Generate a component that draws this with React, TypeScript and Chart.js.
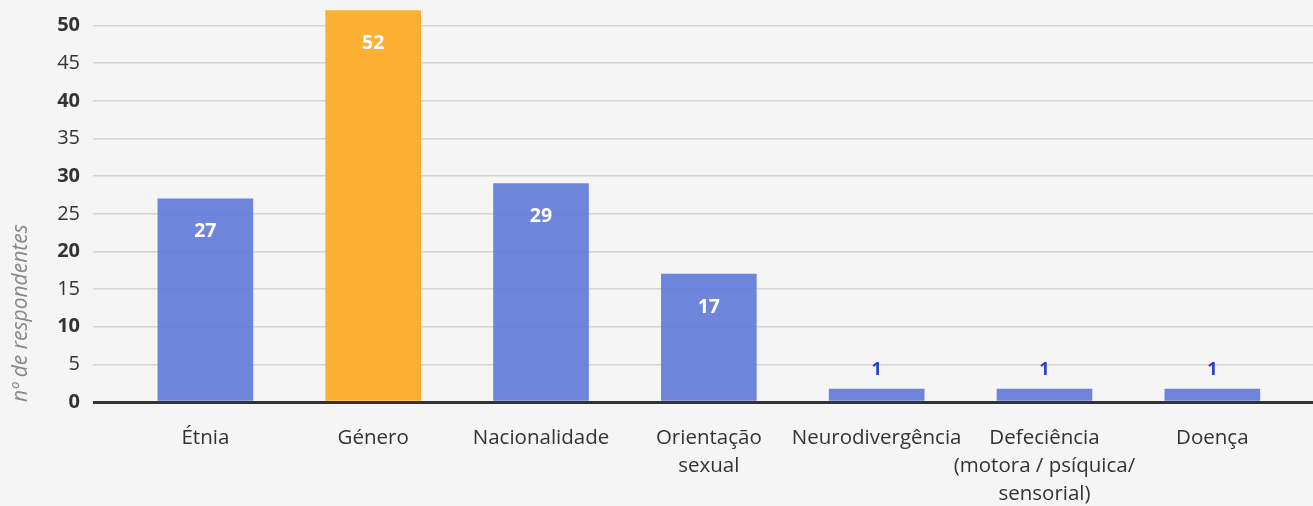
import React, { useEffect, useRef } from "react";
import { Chart, registerables } from "chart.js";

Chart.register(...registerables);

const categories: string[][] = [
  ["Étnia"],
  ["Género"],
  ["Nacionalidade"],
  ["Orientação", "sexual"],
  ["Neurodivergência"],
  ["Defeciência", "(motora / psíquica/", "sensorial)"],
  ["Doença"],
];
const values: number[] = [27, 52, 29, 17, 1, 1, 1];
const yTicks: number[] = [0, 5, 10, 15, 20, 25, 30, 35, 40, 45, 50];
const highlightIndex = 1;
const yTitle = "nº de respondentes";

const FONT = "'Open Sans', 'Noto Sans', sans-serif";
const BLUE = "rgba(96, 121, 216, 0.9)";
const ORANGE = "rgb(251, 176, 52)";

const labelPlugin = {
  id: "barLabels",
  afterDatasetsDraw(chart: any) {
    const ctx = chart.ctx;
    const meta = chart.getDatasetMeta(0);
    ctx.save();
    ctx.textAlign = "center";
    ctx.textBaseline = "middle";
    meta.data.forEach((el: any, i: number) => {
      const v = values[i];
      if (v >= 10) {
        ctx.font = `bold 19.5px ${FONT}`;
        ctx.fillStyle = "#ffffff";
        ctx.fillText(String(v), el.x, el.y + 33);
      } else {
        ctx.font = `bold 18px ${FONT}`;
        ctx.fillStyle = "#2a41c7";
        ctx.fillText(String(v), el.x, el.y - 19);
      }
    });
    ctx.restore();
  },
};

export default function App() {
  const ref = useRef<HTMLCanvasElement | null>(null);
  useEffect(() => {
    if (!ref.current) return;
    const chart = new Chart(ref.current, {
      type: "bar",
      data: {
        datasets: [
          {
            data: values.map((v, i) => ({ x: i, y: v })),
            backgroundColor: values.map((_, i) => (i === highlightIndex ? ORANGE : BLUE)),
            barThickness: 95,
            minBarLength: 13,
            borderWidth: 0,
          },
        ],
      },
      options: {
        animation: false,
        responsive: false,
        devicePixelRatio: 1,
        layout: { padding: 0 },
        plugins: {
          legend: { display: false },
          tooltip: { enabled: false },
        },
        scales: {
          x: {
            type: "linear",
            offset: false,
            min: -0.6696,
            max: 6.6,
            afterBuildTicks: (s: any) => {
              s.ticks = categories.map((_, i) => ({ value: i }));
            },
            afterFit: (s: any) => {
              s.height = 104;
              s.paddingLeft = 0;
              s.paddingRight = 0;
            },
            grid: { display: false, drawTicks: false },
            border: { display: false },
            ticks: {
              autoSkip: false,
              maxRotation: 0,
              minRotation: 0,
              padding: 22,
              color: "#333333",
              font: { family: FONT, size: 20.5, lineHeight: 1.37 },
              callback: (v: any) => categories[v] as any,
            },
          },
          y: {
            min: 0,
            max: 53.4,
            afterBuildTicks: (s: any) => {
              s.ticks = yTicks.map((v) => ({ value: v }));
            },
            afterFit: (s: any) => {
              s.width = 93;
              s.paddingTop = 0;
              s.paddingBottom = 0;
            },
            border: { display: false },
            grid: {
              drawTicks: false,
              color: (c: any) => (c.tick && c.tick.value === 0 ? "#333333" : "#d4d4d4"),
              lineWidth: (c: any) => (c.tick && c.tick.value === 0 ? 3 : 1.5),
            },
            ticks: {
              padding: 13,
              color: "#333333",
              font: (c: any) => ({
                family: FONT,
                size: 20,
                weight: c.tick && c.tick.value % 10 === 0 ? "bold" : "normal",
              }),
            },
            title: {
              display: true,
              text: yTitle,
              align: "start",
              color: "#888888",
              padding: { top: 8, bottom: 4 },
              font: { family: FONT, size: 21, style: "italic" },
            },
          },
        },
      },
      plugins: [labelPlugin],
    } as any);
    return () => chart.destroy();
  }, []);
  return (
    <div
      style={{
        position: "fixed",
        left: 0,
        top: 0,
        width: 1313,
        height: 506,
        background: "#f5f5f5",
      }}
    >
      <canvas ref={ref} width={1313} height={506} style={{ display: "block" }} />
    </div>
  );
}
